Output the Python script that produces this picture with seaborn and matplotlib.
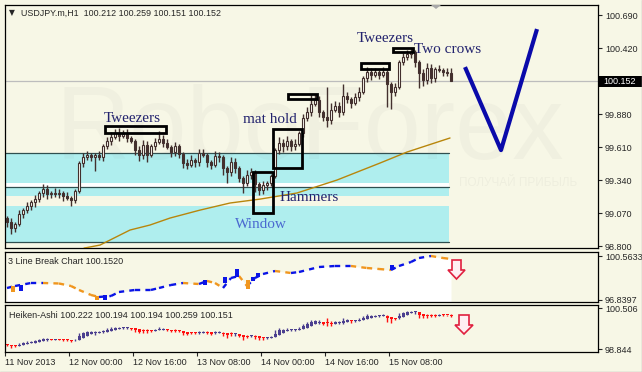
import matplotlib
matplotlib.use("Agg")
import matplotlib.pyplot as plt
import seaborn as sns
import numpy as np
from matplotlib.patches import Rectangle, Polygon
from matplotlib.transforms import Affine2D

sns.set_style("white")
plt.rcParams['font.family'] = ['Liberation Sans', 'DejaVu Sans']

# ---------------- data ----------------
opens = [99.029,98.996,98.947,98.980,99.062,99.094,99.127,99.160,99.184,99.234,
 99.266,99.225,99.234,99.225,99.234,99.209,99.193,99.176,99.250,99.479,
 99.528,99.545,99.528,99.545,99.528,99.618,99.659,99.692,99.724,99.700,
 99.716,99.684,99.659,99.585,99.545,99.626,99.545,99.618,99.651,99.675,
 99.643,99.610,99.569,99.618,99.553,99.479,99.463,99.504,99.487,99.561,
 99.545,99.487,99.463,99.536,99.528,99.438,99.405,99.487,99.438,99.356,
 99.315,99.381,99.405,99.307,99.258,99.299,99.315,99.373,99.585,99.643,
 99.618,99.659,99.618,99.635,99.724,99.847,99.896,99.962,99.995,99.896,
 99.855,99.831,99.913,99.945,99.896,100.027,100.003,99.970,100.019,100.060,
 100.175,100.224,100.199,100.224,100.199,100.224,100.125,100.060,100.101,100.305,
 100.346,100.371,100.387,100.305,100.215,100.158,100.256,100.175,100.248,100.240,
 100.224,100.212]
closes = [98.996,98.947,98.980,99.062,99.094,99.127,99.160,99.184,99.234,99.266,
 99.225,99.234,99.225,99.234,99.209,99.193,99.176,99.250,99.479,99.528,
 99.545,99.528,99.545,99.528,99.618,99.659,99.692,99.724,99.700,99.716,
 99.684,99.659,99.585,99.545,99.626,99.545,99.618,99.651,99.675,99.643,
 99.610,99.569,99.618,99.553,99.479,99.463,99.504,99.487,99.561,99.545,
 99.487,99.463,99.536,99.528,99.438,99.405,99.487,99.438,99.356,99.315,
 99.381,99.405,99.307,99.258,99.299,99.315,99.373,99.585,99.643,99.618,
 99.659,99.618,99.635,99.724,99.847,99.896,99.962,99.995,99.896,99.855,
 99.831,99.913,99.945,99.896,100.027,100.003,99.970,100.019,100.060,100.175,
 100.224,100.199,100.224,100.199,100.224,100.125,100.060,100.101,100.305,100.346,
 100.371,100.387,100.305,100.215,100.158,100.256,100.175,100.248,100.240,100.224,
 100.212,100.152]
upper_wick = [0.02,0.03,0.02,0.03,0.02,0.03,0.02,0.03,0.02,0.04,
 0.03,0.02,0.04,0.03,0.02,0.03,0.02,0.02,0.02,0.03,
 0.03,0.02,0.02,0.03,0.02,0.03,0.04,0.03,0.04,0.03,
 0.04,0.02,0.02,0.03,0.04,0.03,0.02,0.03,0.07,0.03,
 0.03,0.02,0.03,0.02,0.02,0.03,0.04,0.02,0.03,0.03,
 0.02,0.02,0.04,0.03,0.02,0.02,0.04,0.03,0.02,0.02,
 0.04,0.03,0.02,0.02,0.03,0.02,0.02,0.02,0.05,0.03,
 0.04,0.02,0.04,0.02,0.03,0.04,0.08,0.05,0.03,0.02,
 0.25,0.06,0.04,0.03,0.10,0.03,0.02,0.03,0.04,0.02,
 0.04,0.03,0.03,0.02,0.04,0.02,0.02,0.03,0.02,0.03,
 0.03,0.03,0.02,0.02,0.03,0.04,0.03,0.02,0.03,0.02,
 0.03,0.047]
lower_wick = [0.04,0.05,0.03,0.02,0.03,0.02,0.03,0.04,0.02,0.03,
 0.04,0.03,0.02,0.03,0.04,0.02,0.05,0.02,0.02,0.03,
 0.02,0.03,0.11,0.02,0.03,0.02,0.03,0.02,0.04,0.02,
 0.03,0.02,0.04,0.05,0.03,0.06,0.02,0.03,0.02,0.03,
 0.02,0.04,0.03,0.03,0.04,0.03,0.02,0.04,0.03,0.02,
 0.04,0.03,0.02,0.04,0.06,0.09,0.03,0.04,0.03,0.08,
 0.02,0.03,0.065,0.04,0.03,0.04,0.02,0.02,0.03,0.05,
 0.03,0.04,0.03,0.02,0.03,0.02,0.03,0.02,0.04,0.03,
 0.06,0.03,0.02,0.04,0.02,0.03,0.04,0.02,0.03,0.02,
 0.03,0.04,0.02,0.03,0.02,0.19,0.14,0.03,0.02,0.02,
 0.02,0.03,0.04,0.12,0.05,0.03,0.04,0.03,0.02,0.03,
 0.02,0.001]

ma_bar = [19.25,23.25,30.75,35.75,40.75,48.25,55.75,63.25,72.5,82.5,93.25,100,110.75]
ma_val = [98.783,98.808,98.931,98.972,99.029,99.094,99.152,99.184,99.234,99.340,99.479,99.569,99.684]

tlb_bar = [0,2,6,9,13,16,18,21,23,26,28,32,36,38,41,44,48,50,52,54,56,58,60,62,64,67,71,73,78,82,86,90,93,96,98,101,103,106,109,111]
tlb_val = [97.855,98.024,98.278,98.278,98.236,98.024,97.689,97.263,97.094,97.178,97.517,97.689,97.689,97.855,98.109,98.278,98.193,98.448,98.278,97.855,98.702,98.871,98.024,98.702,99.040,99.294,99.125,99.209,99.632,99.717,99.717,99.548,99.463,99.378,99.717,100.056,100.394,100.563,100.394,100.310]
brick_bar = [1.5,3.5,22.5,24.5,49.5,54.5,57.5,60.25,61.5,62.75,96.25]
brick_lo = [97.517,97.601,96.840,96.840,98.109,98.278,98.786,97.770,98.448,98.786,99.378]
brick_hi = [98.024,98.109,97.178,97.263,98.532,98.786,99.463,98.532,98.786,99.125,99.802]
brick_up = [False,True,False,True,True,True,True,False,True,True,True]

zones_lo = [99.315, 99.209, 98.833]
zones_hi = [99.561, 99.283, 99.127]
zone_lines = [99.561, 99.283, 98.833]

main_ticks = [98.800, 99.070, 99.340, 99.610, 99.880, 100.420, 100.690]
time_labels = ['11 Nov 2013', '12 Nov 00:00', '12 Nov 16:00', '13 Nov 08:00',
               '14 Nov 00:00', '14 Nov 16:00', '15 Nov 08:00']
last_price = 100.152

# pattern annotations: (x0, x1, y_low, y_high) in bar / price units
boxes = [(24.5, 39.75, 99.724, 99.782), (88.5, 95.5, 100.248, 100.297),
         (96.5, 101.5, 100.387, 100.420), (70.25, 77.5, 100.003, 100.044),
         (66.5, 73.75, 99.438, 99.757), (61.5, 66.5, 99.070, 99.405)]
labels = [("Tweezers", 24.25, 99.847, '#23236E'), ("Tweezers", 87.5, 100.502, '#23236E'),
          ("Two crows", 101.75, 100.404, '#23236E'), ("mat hold", 59.0, 99.839, '#23236E'),
          ("Hammers", 68.25, 99.201, '#23236E'), ("Window", 57.0, 98.980, '#4A68D0')]
forecast_bar = [114.5, 123.5, 132.5]
forecast_val = [100.264, 99.585, 100.575]

# ---------------- figure ----------------
W, H = 642, 372
BG = '#F7F7E6'
DARK = '#43302E'
fig = plt.figure(figsize=(W / 100, H / 100), dpi=100)
fig.patch.set_facecolor(BG)
PX = Affine2D().scale(1 / W, -1 / H).translate(0, 1) + fig.transFigure


def px_axes(x0, y0, x1, y1):
    a = fig.add_axes([x0 / W, 1 - y1 / H, (x1 - x0) / W, (y1 - y0) / H])
    a.set_facecolor(BG)
    for s in a.spines.values():
        s.set_color('black')
        s.set_linewidth(0.9)
    return a


XL = (-0.5, 147.75)
n = len(closes)
idx = np.arange(n)
o = np.array(opens); c = np.array(closes)
h = np.maximum(o, c) + np.array(upper_wick)
l = np.minimum(o, c) - np.array(lower_wick)

# ---- main panel ----
ax = px_axes(5, 5, 598, 248)
ax.set_xlim(*XL)
ax.set_ylim(98.784, 100.772)
zx1 = 110.5
for lo, hi in zip(zones_lo, zones_hi):
    ax.add_patch(Rectangle((XL[0], lo), zx1 - XL[0], hi - lo, facecolor='#AFEEEE', edgecolor='none', zorder=1))
ax.add_patch(Rectangle((XL[0], zones_hi[1]), zx1 - XL[0], zones_lo[0] - zones_hi[1], facecolor='white', edgecolor='none', zorder=1))
for yv in zone_lines:
    ax.plot([XL[0], zx1], [yv, yv], color='#2F4F4F', lw=0.9, zorder=2)
ax.axhline(last_price, color='#BDBDBD', lw=0.9, zorder=2)

ax.text(310, 132, "RoboForex", transform=PX, fontsize=74, color='#7a7a7a', alpha=0.05,
        ha='center', va='center', zorder=2.5, family='Liberation Sans')
ax.text(518, 183, "ПОЛУЧАЙ ПРИБЫЛЬ", transform=PX, fontsize=8.5, color='#7a7a7a', alpha=0.07,
        ha='center', va='center', zorder=2.5, family='Liberation Sans')

sns.lineplot(x=ma_bar, y=ma_val, ax=ax, color='#B8860B', lw=1.0, zorder=3)

ax.vlines(idx, l, h, color=DARK, lw=1.0, zorder=4)
up = c >= o
body_lo = np.minimum(o, c)
body_h = np.maximum(np.abs(c - o), 0.004)
ax.bar(idx[up], body_h[up], bottom=body_lo[up], width=0.72, color='#FFFFF6', edgecolor=DARK, linewidth=0.8, zorder=5)
ax.bar(idx[~up], body_h[~up], bottom=body_lo[~up], width=0.72, color=DARK, edgecolor=DARK, linewidth=0.8, zorder=5)

for x0, x1, y0, y1 in boxes:
    ax.add_patch(Rectangle((x0, y0), x1 - x0, y1 - y0, fill=False, edgecolor='black', lw=2.0, zorder=6))
for s, xx, yy, col in labels:
    ax.text(xx, yy, s, color=col, fontsize=11, family='Liberation Serif', ha='left', va='center', zorder=7)
ax.plot(forecast_bar, forecast_val, color='#0A0AAA', lw=3.0, solid_capstyle='butt', zorder=7)

ax.set_yticks(main_ticks, labels=[f"{v:.3f}" for v in main_ticks])
ax.tick_params(axis='y', left=False, right=True, labelleft=False, labelright=True,
               length=3, width=0.8, labelsize=6.5, pad=2, direction='out')
ax.tick_params(axis='x', bottom=False, labelbottom=False)
ax.set_xlabel(''); ax.set_ylabel('')

# ---- 3 line break panel ----
ax2 = px_axes(5, 252, 598, 302)
ax2.set_xlim(*XL)
ax2.set_ylim(96.670, 100.902)
ax2.fill_between(tlb_bar, tlb_val, 96.670, color='white', lw=0, zorder=1)
for i in range(len(tlb_bar) - 1):
    col = '#0A14E6' if tlb_val[i + 1] >= tlb_val[i] else '#F0961E'
    ax2.plot(tlb_bar[i:i + 2], tlb_val[i:i + 2], color=col, lw=1.7, dashes=(2.2, 2.2), zorder=3)
for b, lo, hi, u in zip(brick_bar, brick_lo, brick_hi, brick_up):
    ax2.add_patch(Rectangle((b - 0.6, lo), 1.2, hi - lo, facecolor='#0A14E6' if u else '#F0961E',
                            edgecolor='none', zorder=4))
ax2.set_yticks([96.8397, 100.5633], labels=['96.8397', '100.5633'])
for lab, va in zip(ax2.get_yticklabels(), ['bottom', 'top']):
    lab.set_va(va)
ax2.tick_params(axis='y', left=False, right=True, labelleft=False, labelright=True,
                length=3, width=0.8, labelsize=6.5, pad=2)
ax2.tick_params(axis='x', bottom=False, labelbottom=False)
ax2.text(8, 261, "3 Line Break Chart 100.1520", transform=PX, fontsize=6.5, va='center', ha='left', zorder=8)

# ---- Heiken-Ashi panel ----
ha_c = (o + h + l + c) / 4
ha_o = np.empty(n)
ha_o[0] = (o[0] + c[0]) / 2
for i in range(1, n):
    ha_o[i] = (ha_o[i - 1] + ha_c[i - 1]) / 2
ha_h = np.maximum.reduce([h, ha_o, ha_c])
ha_l = np.minimum.reduce([l, ha_o, ha_c])
ha_up = ha_c >= ha_o

ax3 = px_axes(5, 305, 598, 352)
ax3.set_xlim(*XL)
ax3.set_ylim(98.725, 100.645)
PUR, RED = '#4B3F8F', '#FF1010'
ax3.vlines(idx[ha_up], ha_l[ha_up], ha_h[ha_up], color=PUR, lw=1.0)
ax3.vlines(idx[~ha_up], ha_l[~ha_up], ha_h[~ha_up], color=RED, lw=1.0)
hb = np.maximum(np.abs(ha_c - ha_o), 0.04)
hlo = np.minimum(ha_o, ha_c)
ax3.bar(idx[ha_up], hb[ha_up], bottom=hlo[ha_up], width=0.75, color=PUR, lw=0)
ax3.bar(idx[~ha_up], hb[~ha_up], bottom=hlo[~ha_up], width=0.75, color=RED, lw=0)
ax3.set_yticks([98.844, 100.506], labels=['98.844', '100.506'])
for lab, va in zip(ax3.get_yticklabels(), ['bottom', 'top']):
    lab.set_va(va)
ax3.tick_params(axis='y', left=False, right=True, labelleft=False, labelright=True,
                length=3, width=0.8, labelsize=6.5, pad=2)
tpos = [-0.5 + 16 * k for k in range(len(time_labels))]
ax3.set_xticks(tpos, labels=time_labels)
for lab in ax3.get_xticklabels():
    lab.set_ha('left')
ax3.tick_params(axis='x', bottom=True, length=3, width=0.8, labelsize=6.5, pad=1.5, direction='out')
ax3.text(9, 315, "Heiken-Ashi 100.222 100.194 100.194 100.259 100.151", transform=PX,
         fontsize=6.5, va='center', ha='left', zorder=8)

# ---- decorations in pixel space ----
fig.text(9, 13, "▼", transform=PX, fontsize=5.5, va='center', ha='left', family='DejaVu Sans')
fig.text(21, 13, "USDJPY.m,H1  100.212 100.259 100.151 100.152", transform=PX,
         fontsize=6.4, va='center', ha='left')
fig.add_artist(Rectangle((599, 76), 43, 11, transform=PX, facecolor='black', edgecolor='none'))
fig.text(620, 81.5, f"{last_price:.3f}", transform=PX, fontsize=6.5, color='white', va='center', ha='center')
fig.add_artist(Polygon([(431, 5), (441, 5), (436, 9)], closed=True, transform=PX,
                       facecolor='#A8A8A8', edgecolor='none'))
for pts in ([(452, 260), (461, 260), (461, 270), (465, 270), (456.5, 279), (448, 270), (452, 270)],
            [(459, 315), (469, 315), (469, 325), (473, 325), (464, 334), (455, 325), (459, 325)]):
    fig.add_artist(Polygon(pts, closed=True, transform=PX, facecolor='#FFEFF2',
                           edgecolor='#E0203F', lw=1.2, joinstyle='miter'))
fig.add_artist(plt.Line2D([641.5, 641.5], [0, 372], transform=PX, color='#B0B0B0', lw=1))
fig.add_artist(plt.Line2D([0, 642], [371.5, 371.5], transform=PX, color='#B0B0B0', lw=1))

fig.savefig("out.png", dpi=100, facecolor=BG)
